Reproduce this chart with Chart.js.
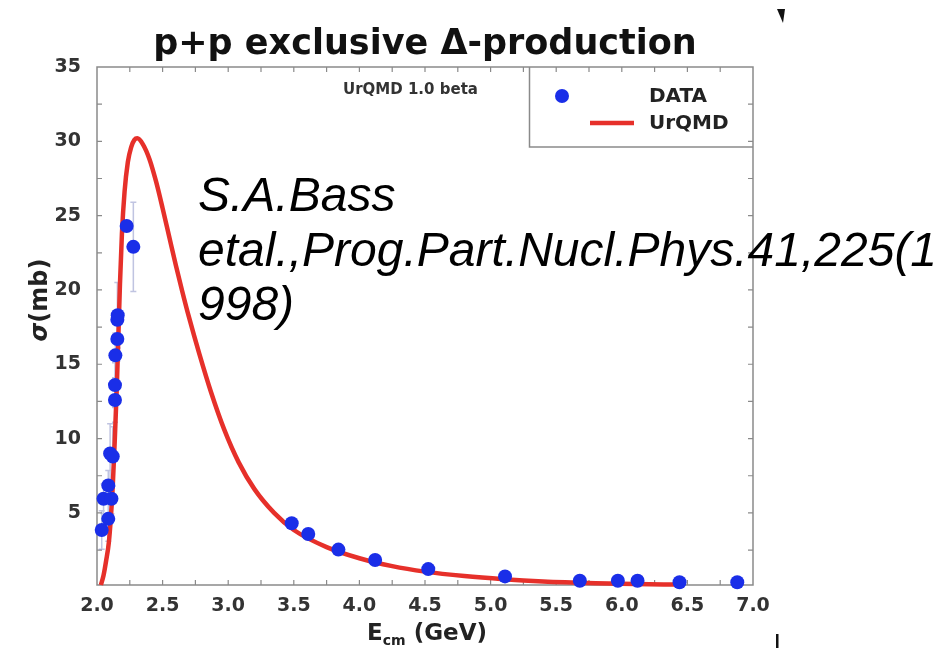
<!DOCTYPE html>
<html>
<head>
<meta charset="utf-8">
<style>
  html, body { margin: 0; padding: 0; background: #ffffff; }
  canvas { display: block; }
</style>
<script src="https://cdn.jsdelivr.net/npm/chart.js@4/dist/chart.umd.min.js"></script>
</head>
<body>
<canvas id="chart" width="939" height="648"></canvas>
<script>
// Measured cross sections (E_cm in GeV, sigma in mb) with symmetric errors
const dataX   = [2.036, 2.086, 2.05, 2.11, 2.086, 2.10, 2.12, 2.137, 2.137, 2.14, 2.155, 2.155, 2.158, 2.226, 2.277,
                 3.484, 3.61, 3.84, 4.12, 4.525, 5.11, 5.68, 5.97, 6.12, 6.44, 6.88];
const dataY   = [3.85, 4.6, 5.95, 5.95, 6.85, 9.0, 8.8, 12.6, 13.6, 15.6, 16.7, 18.0, 18.3, 24.3, 22.9,
                 4.30, 3.58, 2.53, 1.83, 1.22, 0.73, 0.44, 0.44, 0.44, 0.33, 0.33];
const dataErr = [1.3, 1.5, 1.0, 1.0, 1.0, 2.0, 2.0, 1.5, 1.5, 1.5, 1.5, 2.5, 2.2, 0, 3.0,
                 0, 0, 0, 0, 0, 0, 0, 0, 0, 0, 0];

// UrQMD model curve
const modelX = [2.03, 2.05, 2.07, 2.09, 2.105, 2.12, 2.135, 2.15, 2.162, 2.175, 2.19, 2.21, 2.235, 2.26, 2.285, 2.307,
                2.35, 2.40, 2.45, 2.50, 2.55, 2.60, 2.65, 2.70, 2.78, 2.87, 2.97, 3.08, 3.2, 3.35, 3.5,
                3.75, 4.0, 4.25, 4.5, 4.8, 5.1, 5.4, 5.8, 6.1, 6.42];
const modelY = [0.15, 0.8, 1.8, 3.0, 4.6, 6.8, 9.8, 13.2, 16.6, 20.4, 23.8, 26.6, 28.6, 29.6, 30.1, 30.2,
                29.8, 28.8, 27.3, 25.5, 23.6, 21.7, 19.9, 18.2, 15.7, 13.1, 10.6, 8.4, 6.6, 5.0, 3.85,
                2.7, 1.95, 1.42, 1.05, 0.75, 0.54, 0.39, 0.27, 0.21, 0.18];

const xTickLabels = ['2.0', '2.5', '3.0', '3.5', '4.0', '4.5', '5.0', '5.5', '6.0', '6.5', '7.0'];
const yTickLabels = ['5', '10', '15', '20', '25', '30', '35'];
const seriesNames = ['DATA', 'UrQMD'];
const chartTitle = 'p+p exclusive \u0394-production';
const runLabel = 'UrQMD 1.0 beta';
const citationLines = ['S.A.Bass', 'etal.,Prog.Part.Nucl.Phys.41,225(1', '998)'];

const xTickValues = xTickLabels.map(Number);
const yTickValues = yTickLabels.map(Number);

const BLUE = '#1a2ee8';
const RED = '#e6302a';
const FRAME = '#8a8a8a';
const SANS = '"DejaVu Sans", "Liberation Sans", sans-serif';

const decorations = {
  id: 'decorations',
  beforeDatasetsDraw(chart) {
    const { ctx, chartArea: a, scales: { x, y } } = chart;
    ctx.save();
    // frame
    ctx.strokeStyle = FRAME;
    ctx.lineWidth = 1.5;
    ctx.strokeRect(a.left, a.top, a.right - a.left, a.bottom - a.top);
    // inward ticks on all four sides
    ctx.lineWidth = 1.2;
    ctx.beginPath();
    for (let v = 2.25; v < 7; v += 0.25) {
      const px = x.getPixelForValue(v);
      ctx.moveTo(px, a.bottom); ctx.lineTo(px, a.bottom - 5);
      ctx.moveTo(px, a.top); ctx.lineTo(px, a.top + 5);
    }
    for (let v = 2.5; v < 35; v += 2.5) {
      const py = y.getPixelForValue(v);
      ctx.moveTo(a.left, py); ctx.lineTo(a.left + 5, py);
      ctx.moveTo(a.right, py); ctx.lineTo(a.right - 5, py);
    }
    ctx.stroke();

    // legend box
    const lx = 529.5, ly = a.top, lw = a.right - 529.5, lh = 80;
    ctx.strokeStyle = FRAME;
    ctx.lineWidth = 1.5;
    ctx.beginPath();
    ctx.moveTo(lx, ly); ctx.lineTo(lx, ly + lh); ctx.lineTo(lx + lw, ly + lh);
    ctx.stroke();

    // error bars
    ctx.strokeStyle = 'rgba(130,138,195,0.5)';
    ctx.lineWidth = 1.5;
    ctx.beginPath();
    dataErr.forEach((e, i) => {
      if (!e) return;
      const px = x.getPixelForValue(dataX[i]);
      const p1 = y.getPixelForValue(dataY[i] - e);
      const p2 = y.getPixelForValue(dataY[i] + e);
      ctx.moveTo(px, p1); ctx.lineTo(px, p2);
      ctx.moveTo(px - 3, p1); ctx.lineTo(px + 3, p1);
      ctx.moveTo(px - 3, p2); ctx.lineTo(px + 3, p2);
    });
    ctx.stroke();
    ctx.restore();
  },
  afterDraw(chart) {
    const { ctx } = chart;
    const dsets = chart.data.datasets;
    ctx.save();
    ctx.fillStyle = '#111';
    ctx.textBaseline = 'alphabetic';

    // title
    ctx.font = 'bold 35px ' + SANS;
    ctx.textAlign = 'center';
    ctx.fillText(chartTitle, 425, 54);

    // run label
    ctx.font = 'bold 15px ' + SANS;
    ctx.fillStyle = '#333';
    ctx.textAlign = 'left';
    ctx.fillText(runLabel, 343, 94);

    // legend entries
    ctx.fillStyle = dsets[0].backgroundColor;
    ctx.beginPath();
    ctx.arc(562, 96, dsets[0].pointRadius, 0, Math.PI * 2);
    ctx.fill();
    ctx.strokeStyle = dsets[1].borderColor;
    ctx.lineWidth = dsets[1].borderWidth;
    ctx.beginPath();
    ctx.moveTo(590, 123); ctx.lineTo(634, 123);
    ctx.stroke();
    ctx.fillStyle = '#222';
    ctx.font = 'bold 20px ' + SANS;
    ctx.textBaseline = 'middle';
    ctx.fillText(dsets[0].label, 649, 97);
    ctx.fillText(dsets[1].label, 649, 124);
    ctx.textBaseline = 'alphabetic';

    // x axis title: E_cm (GeV)
    ctx.fillStyle = '#222';
    const big = 'bold 23px ' + SANS, small = 'bold 14px ' + SANS;
    ctx.font = big; const wE = ctx.measureText('E').width;
    const wG = ctx.measureText(' (GeV)').width;
    ctx.font = small; const wS = ctx.measureText('cm').width;
    let sx = 427 - (wE + wS + wG) / 2;
    const base = 640;
    ctx.font = big; ctx.fillText('E', sx, base); sx += wE;
    ctx.font = small; ctx.fillText('cm', sx, base + 5); sx += wS;
    ctx.font = big; ctx.fillText(' (GeV)', sx, base);

    // y axis title: sigma(mb)
    ctx.save();
    ctx.translate(47, 300);
    ctx.rotate(-Math.PI / 2);
    const sig = 'italic bold 24px ' + SANS;
    const yb = 'bold 24px ' + SANS;
    ctx.font = sig; const wsig = ctx.measureText('\u03c3').width;
    ctx.font = yb; const wmb = ctx.measureText('(mb)').width;
    let ty = -(wsig + wmb) / 2;
    ctx.font = sig; ctx.fillText('\u03c3', ty, 0); ty += wsig;
    ctx.font = yb; ctx.fillText('(mb)', ty, 0);
    ctx.restore();

    // corner marks
    ctx.fillStyle = '#111';
    ctx.beginPath();
    ctx.moveTo(777, 9); ctx.lineTo(785, 9); ctx.lineTo(783, 23); ctx.closePath();
    ctx.fill();
    ctx.fillRect(776, 634, 2.5, 14);

    // citation
    ctx.fillStyle = '#000';
    ctx.font = 'italic 48px "Liberation Sans", Arial, sans-serif';
    ctx.textAlign = 'left';
    const bases = [211, 266, 320];
    citationLines.forEach((t, i) => ctx.fillText(t, 198, bases[i]));
    ctx.restore();
  }
};

new Chart(document.getElementById('chart'), {
  type: 'scatter',
  data: {
    datasets: [
      {
        label: seriesNames[0],
        data: dataX.map((v, i) => ({ x: v, y: dataY[i] })),
        backgroundColor: BLUE,
        borderColor: BLUE,
        pointRadius: 7,
        pointBorderWidth: 0,
        clip: false,
        order: 0
      },
      {
        label: seriesNames[1],
        data: modelX.map((v, i) => ({ x: v, y: modelY[i] })),
        showLine: true,
        borderColor: RED,
        borderWidth: 4.5,
        pointRadius: 0,
        cubicInterpolationMode: 'monotone',
        fill: false,
        clip: false,
        order: 1
      }
    ]
  },
  options: {
    responsive: false,
    animation: false,
    devicePixelRatio: 1,
    layout: { padding: { top: 67, right: 186, bottom: 0, left: 0 } },
    plugins: { legend: { display: false }, tooltip: { enabled: false }, title: { display: false } },
    scales: {
      x: {
        type: 'linear', min: 2, max: 7,
        afterBuildTicks: s => { s.ticks = xTickValues.map(v => ({ value: v })); },
        afterFit: s => { s.height = 63; },
        ticks: {
          callback: (v, i) => xTickLabels[i],
          font: { family: SANS, size: 19, weight: 'bold' },
          color: '#333', padding: 10, maxRotation: 0, autoSkip: false
        },
        grid: { display: false, drawTicks: false, tickLength: 0 },
        border: { display: false }
      },
      y: {
        type: 'linear', min: 0.15, max: 35,
        afterBuildTicks: s => { s.ticks = yTickValues.map(v => ({ value: v })); },
        afterFit: s => { s.width = 97; },
        ticks: {
          callback: (v, i) => yTickLabels[i],
          font: { family: SANS, size: 19, weight: 'bold' },
          color: '#333', padding: 16, autoSkip: false
        },
        grid: { display: false, drawTicks: false, tickLength: 0 },
        border: { display: false }
      }
    }
  },
  plugins: [decorations]
});
</script>
</body>
</html>
